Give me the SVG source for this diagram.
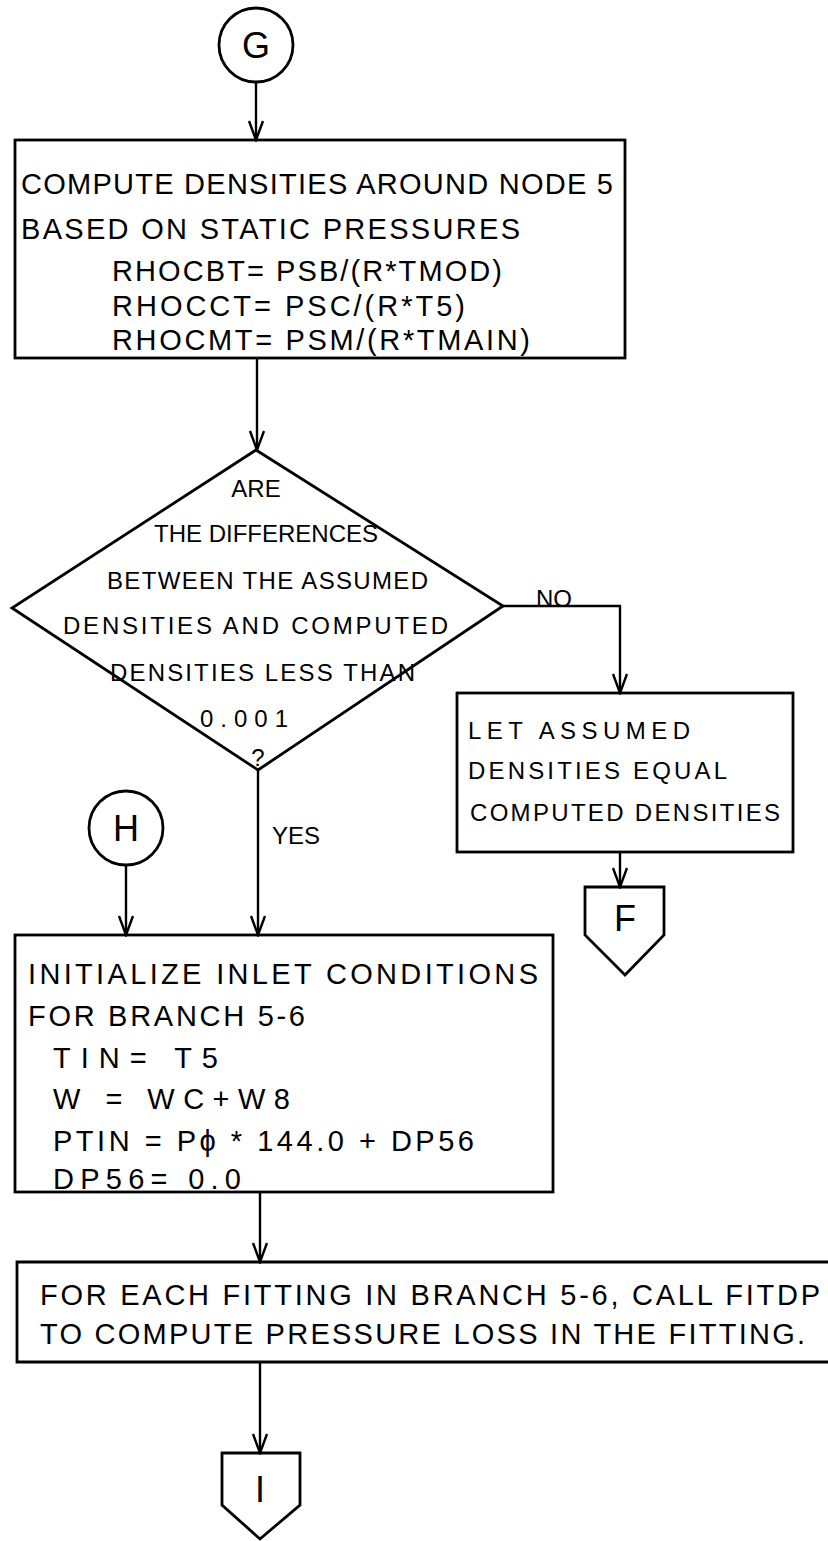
<svg xmlns="http://www.w3.org/2000/svg" width="828" height="1541" viewBox="0 0 828 1541">
<style>
.s{fill:none;stroke:#000;stroke-width:2.8;stroke-linejoin:miter}
.c{stroke:#000;stroke-width:2.4;fill:none}
text{font-family:"Liberation Sans",Arial,sans-serif;fill:#000}
.t{font-size:29px}
.d{font-size:24px}
.k{font-size:36px}
.m{text-anchor:middle}
</style>
<defs>
<marker id="a" markerWidth="22" markerHeight="18" refX="20" refY="9" orient="auto" markerUnits="userSpaceOnUse" viewBox="0 0 22 18">
<polyline points="1,2 20,9 1,16" fill="none" stroke="#000" stroke-width="2.4"/>
</marker>
</defs>
<rect width="828" height="1541" fill="#fff"/>
<g id="connectors">
<line class="c" x1="256" y1="83" x2="256" y2="140" marker-end="url(#a)"/>
<line class="c" x1="257" y1="358" x2="257" y2="450" marker-end="url(#a)"/>
<polyline class="c" points="503,606 620,606 620,693" marker-end="url(#a)"/>
<line class="c" x1="620" y1="852" x2="620" y2="887" marker-end="url(#a)"/>
<line class="c" x1="258" y1="770" x2="258" y2="935" marker-end="url(#a)"/>
<line class="c" x1="126" y1="865" x2="126" y2="935" marker-end="url(#a)"/>
<line class="c" x1="260" y1="1192" x2="260" y2="1262" marker-end="url(#a)"/>
<line class="c" x1="260" y1="1362" x2="260" y2="1453" marker-end="url(#a)"/>
<text class="d" x="536" y="607">NO</text>
<text class="d" x="272" y="844" textLength="48">YES</text>
</g>
<g id="G">
<circle class="s" cx="256" cy="45" r="37"/>
<text class="k m" x="256" y="58">G</text>
</g>
<g id="compute">
<rect class="s" x="15" y="140" width="610" height="218"/>
<text class="t" x="21" y="194" textLength="592">COMPUTE DENSITIES AROUND NODE 5</text>
<text class="t" x="21" y="239" textLength="499">BASED ON STATIC PRESSURES</text>
<text class="t" x="112" y="281" textLength="390">RHOCBT= PSB/(R*TMOD)</text>
<text class="t" x="112" y="316" textLength="353">RHOCCT= PSC/(R*T5)</text>
<text class="t" x="112" y="350" textLength="418">RHOCMT= PSM/(R*TMAIN)</text>
</g>
<g id="decision">
<polygon class="s" points="256,450 503,606 258,770 12,608"/>
<text class="d m" x="256" y="497">ARE</text>
<text class="d m" x="266" y="542">THE DIFFERENCES</text>
<text class="d" x="107" y="589" textLength="321">BETWEEN THE ASSUMED</text>
<text class="d" x="63" y="634" textLength="385">DENSITIES AND COMPUTED</text>
<text class="d" x="110" y="681" textLength="305">DENSITIES LESS THAN</text>
<text class="d" x="200" y="727" textLength="88">0.001</text>
<text class="d m" x="258" y="766">?</text>
</g>
<g id="letassumed">
<rect class="s" x="457" y="693" width="336" height="159"/>
<text class="d" x="468" y="739" textLength="222">LET ASSUMED</text>
<text class="d" x="468" y="779" textLength="259">DENSITIES EQUAL</text>
<text class="d" x="470" y="821" textLength="310">COMPUTED DENSITIES</text>
</g>
<g id="F">
<polygon class="s" points="585,887 664,887 664,935 625,975 585,935"/>
<text class="k m" x="625" y="931">F</text>
</g>
<g id="H">
<circle class="s" cx="126" cy="828" r="37"/>
<text class="k m" x="126" y="841">H</text>
</g>
<g id="initialize">
<rect class="s" x="15" y="935" width="538" height="257"/>
<text class="t" x="28" y="984" textLength="510">INITIALIZE INLET CONDITIONS</text>
<text class="t" x="28" y="1026" textLength="277">FOR BRANCH 5-6</text>
<text class="t" x="53" y="1068" textLength="165">TIN= T5</text>
<text class="t" x="53" y="1109" textLength="237">W = WC+W8</text>
<text class="t" x="53" y="1151" textLength="421">PTIN = Pϕ * 144.0 + DP56</text>
<text class="t" x="53" y="1189" textLength="188">DP56= 0.0</text>
</g>
<g id="foreach">
<polyline class="s" points="830,1262 17,1262 17,1362 830,1362"/>
<text class="t" x="40" y="1305" textLength="780">FOR EACH FITTING IN BRANCH 5-6, CALL FITDP</text>
<text class="t" x="40" y="1344" textLength="765">TO COMPUTE PRESSURE LOSS IN THE FITTING.</text>
</g>
<g id="I">
<polygon class="s" points="222,1453 300,1453 300,1505 260,1539 222,1505"/>
<text class="k m" x="260" y="1502">I</text>
</g>
</svg>
